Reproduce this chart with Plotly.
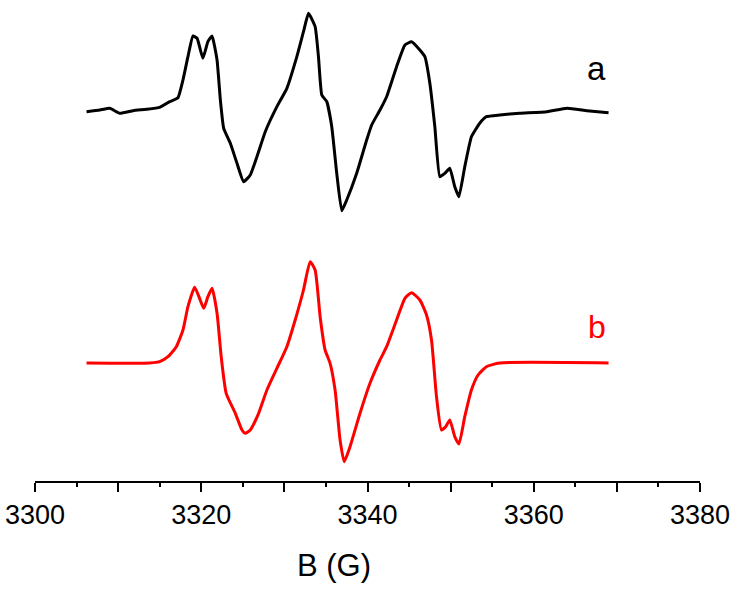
import plotly.graph_objects as go

# Field (G) and intensity (arb. units, baseline = 0) for experimental spectrum a
field_a = [3306.2, 3307.8, 3309.0, 3310.2, 3311.8, 3313.4, 3315.0, 3316.2, 3317.2, 3317.8,
           3318.4, 3319.0, 3319.5, 3320.2, 3320.8, 3321.3, 3321.9, 3322.3, 3322.7, 3323.5,
           3324.3, 3325.1, 3325.9, 3326.7, 3327.7, 3329.1, 3330.3, 3331.5, 3332.3, 3332.9,
           3333.7, 3334.1, 3334.5, 3335.1, 3335.7, 3336.3, 3336.9, 3337.5, 3338.7, 3339.9,
           3340.5, 3341.5, 3342.3, 3343.5, 3344.5, 3345.3, 3346.3, 3346.9, 3347.5, 3348.1,
           3348.7, 3349.3, 3349.9, 3350.5, 3351.0, 3351.7, 3352.5, 3353.5, 3354.3, 3355.9,
           3358.3, 3361.6, 3364.0, 3366.4, 3369.0]
signal_a = [-0.7, 1.0, 2.7, -2.3, 0.3, 1.7, 3.7, 9.3, 13.3, 31,
            54.3, 75, 72.7, 52.7, 69.3, 75, 51, 11, -17.3, -32.3,
            -52.3, -70.7, -64, -45.7, -20.7, 4.3, 22.7, 54.3, 79.3, 97.7,
            84.3, 54.3, 16, 9.3, -15.7, -62.3, -99.7, -89, -62.3, -29,
            -14, 1, 14.3, 44.3, 66, 69.3, 61, 54.3, 27.7, -15.7,
            -65.7, -62.3, -57.3, -75.7, -85.7, -55.7, -25.7, -12.3, -5.7, -4,
            -2.3, -0.7, 2.7, 0.3, -1.7]

# Simulated spectrum b
field_b = [3306.2, 3313.8, 3315.0, 3316.0, 3317.0, 3317.8, 3318.4, 3319.2, 3319.8, 3320.3,
           3320.8, 3321.3, 3321.9, 3322.4, 3323.0, 3324.1, 3324.9, 3325.3, 3325.9, 3326.9,
           3327.9, 3329.1, 3330.3, 3331.3, 3332.3, 3333.1, 3333.7, 3334.3, 3334.9, 3335.5,
           3336.1, 3336.7, 3337.2, 3337.9, 3339.1, 3340.3, 3341.5, 3342.3, 3343.5, 3344.5,
           3345.3, 3346.3, 3347.1, 3347.7, 3348.3, 3348.9, 3349.4, 3349.9, 3350.5, 3351.0,
           3351.7, 3352.5, 3353.3, 3354.3, 3355.9, 3369.0]
signal_b = [0, 0, 1.3, 6.3, 16.3, 33, 56.3, 75.7, 64.7, 54.7,
            66.3, 74.7, 49.7, 6.3, -30.3, -50.3, -67, -70.3, -67, -50.3,
            -27, -5.3, 16.3, 43, 73, 101.3, 93, 46.3, 13, -0.3,
            -27, -77, -98.7, -83.7, -50.3, -20.3, 3, 16.3, 43, 64.7,
            70.3, 63, 48, 23, -33.7, -67, -63.7, -57, -73.7, -81,
            -53.7, -27, -12, -3.7, 0, 0]

offset_a = 252  # vertical stacking offset for spectrum a

tick_vals = [3300, 3310, 3320, 3330, 3340, 3350, 3360, 3370, 3380]
tick_text = ["3300", "", "3320", "", "3340", "", "3360", "", "3380"]

fig = go.Figure()
fig.add_trace(go.Scatter(x=field_a, y=[v + offset_a for v in signal_a], mode="lines",
                         line=dict(color="black", width=3, shape="spline", smoothing=0.4),
                         showlegend=False))
fig.add_trace(go.Scatter(x=field_b, y=signal_b, mode="lines",
                         line=dict(color="#ff0000", width=3, shape="spline", smoothing=0.5),
                         showlegend=False))

font_family = "Liberation Sans, Arial, sans-serif"
fig.update_layout(
    width=739, height=591,
    margin=dict(l=35, r=39, t=0, b=110),
    plot_bgcolor="white", paper_bgcolor="white",
    xaxis=dict(range=[3300, 3380], showgrid=False, zeroline=False,
               showline=True, linecolor="black", linewidth=1.5,
               ticks="outside", ticklen=9, tickwidth=1.5, tickcolor="black",
               tickvals=tick_vals, ticktext=tick_text,
               tickfont=dict(family=font_family, size=27, color="black"),
               minor=dict(dtick=5, ticks="outside", ticklen=4, tickwidth=1.5, tickcolor="black")),
    yaxis=dict(range=[-118, 363], visible=False, showgrid=False, zeroline=False),
    annotations=[
        dict(text="B (G)", x=3336, y=0, xref="x", yref="paper", yanchor="middle",
             yshift=-84, showarrow=False,
             font=dict(family=font_family, size=31, color="black")),
        dict(text="a", x=3367.5, y=295, xref="x", yref="y", showarrow=False,
             font=dict(family=font_family, size=33, color="black")),
        dict(text="b", x=3367.6, y=36, xref="x", yref="y", showarrow=False,
             font=dict(family=font_family, size=32, color="#ff0000")),
    ],
)

fig.write_html("out.html", config={"displayModeBar": False},
               post_script="document.body.style.margin='0';")
